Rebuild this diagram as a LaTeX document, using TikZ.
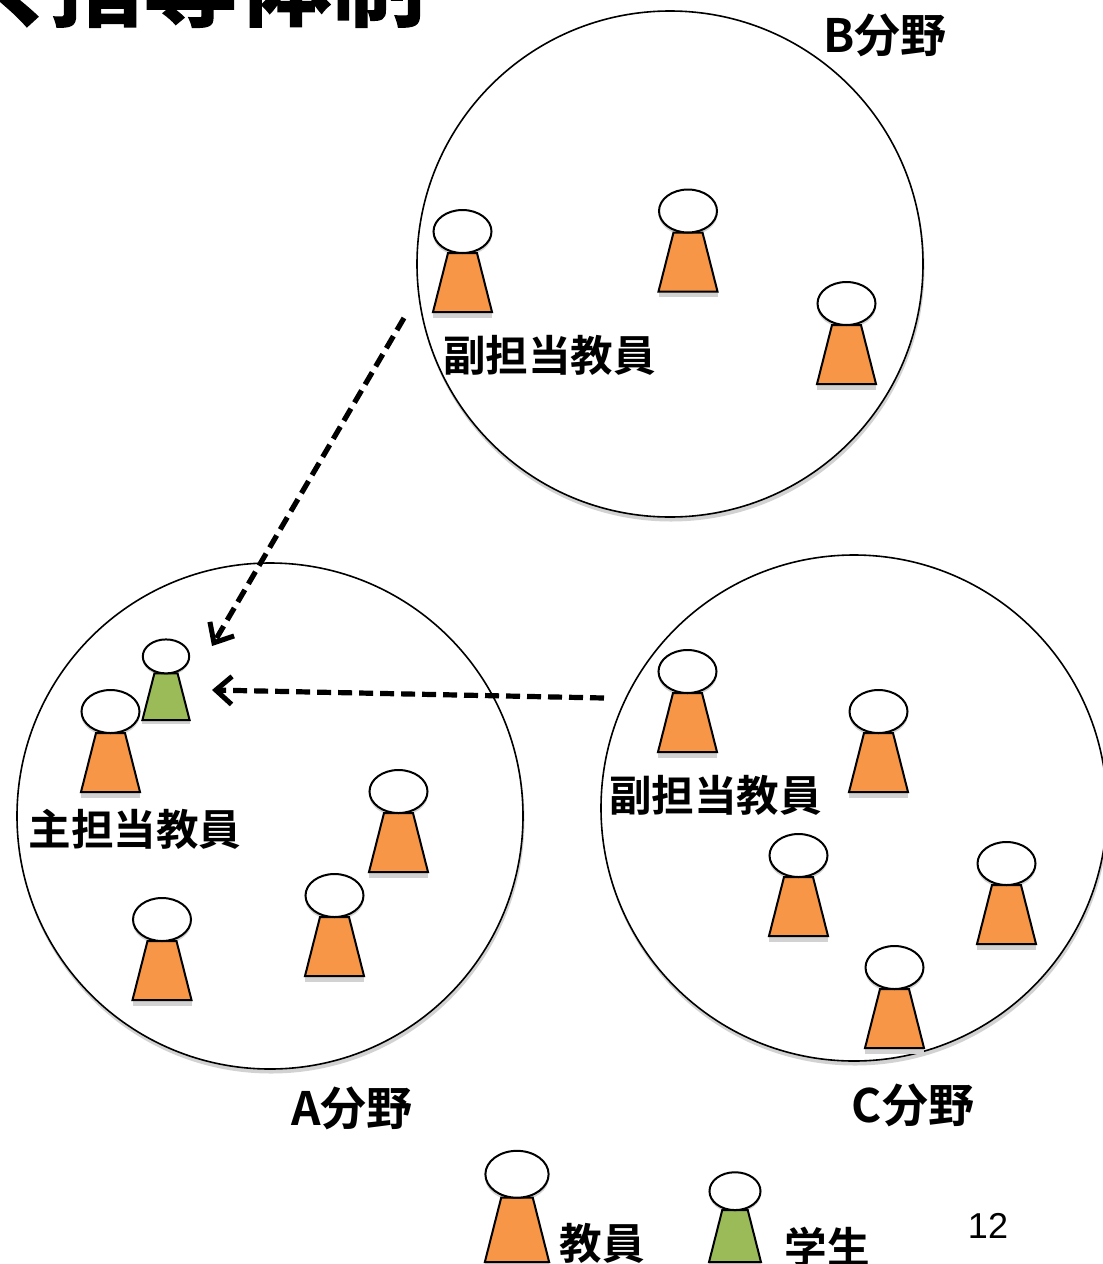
\documentclass[tikz,border=0pt]{standalone}
\usepackage{fontspec}
\setmainfont{Noto Sans CJK JP}[BoldFont={Noto Sans CJK JP Bold}]
\newfontfamily\numfont{Liberation Sans}
\newfontfamily\titlefont{Noto Sans CJK JP Bold}[FakeBold=1.5]
\usetikzlibrary{arrows.meta}
\definecolor{teacherfill}{HTML}{F79646}
\definecolor{studentfill}{HTML}{9BBB59}
\definecolor{softshadow}{HTML}{D2D2D2}
\tikzset{
  x=1pt,y=-1pt,
  field/.style={circle,draw=black,line width=1.6pt,fill=white,minimum size=506pt,inner sep=0pt,outer sep=0pt},
  label/.style={font=\bfseries\fontsize{42.6}{43}\selectfont,inner sep=0pt,anchor=center,text=black},
  fieldlabel/.style={font=\bfseries\fontsize{46}{46}\selectfont,inner sep=0pt,anchor=center,text=black},
  link/.style={line width=5.2pt,dash pattern=on 14pt off 7pt,-{Straight Barb[length=16pt,width=28pt,line width=5pt]}},
  outline/.style={draw=black,line width=2pt,line join=miter},
}
% #1 x of centre, #2 y of body bottom, #3 scale, #4 body colour, #5 scale in y
\newcommand{\personfig}[5]{%
  \begin{scope}[shift={(#1,#2)},xscale=#3,yscale=#5]
    \fill[softshadow] (0,-80.5+2.5) ellipse (29.5 and 22);
    \fill[softshadow] (-29.5,5.5) -- (29.5,5.5) -- (29.5,0) -- (-29.5,0) -- cycle;
    \draw[outline,fill=#4] (-14.5,-59) -- (14.5,-59) -- (29.5,0) -- (-29.5,0) -- cycle;
    \draw[outline,fill=white] (0,-80.5) ellipse (29 and 21.5);
  \end{scope}}
\begin{document}
\begin{tikzpicture}
\useasboundingbox (0,0) rectangle (1103,1264);
\clip (0,0) rectangle (1103,1264);
\node[anchor=base west,inner sep=0pt,font=\titlefont\fontsize{94}{94}\selectfont] (title) at (-33,19) {く\kern-12pt 指導体制};
% field shadows and fields
\foreach \cx/\cy in {670/264,270/816,854/808}
  \fill[softshadow] (\cx+1,\cy+4) circle (253.5);
\node[field] (fieldB) at (670,264) {};
\node[field] (fieldA) at (270,816) {};
\node[field] (fieldC) at (854,808) {};
% people
\foreach \px/\py in {462.5/312,688/291.5,846.5/384,
                     398.5/872,334.5/976,162/1000,
                     687.5/752,878.5/792,798.5/936,1006.5/944,894.5/1048}
  \personfig{\px}{\py}{1}{teacherfill}{1};
\personfig{166}{720}{0.8}{studentfill}{0.79}
\personfig{110.5}{792}{1}{teacherfill}{1}
\personfig{517}{1262}{1.09}{teacherfill}{1.09}
\personfig{735}{1262}{0.88}{studentfill}{0.88}
% labels
\node[fieldlabel] (lblB) at (885,35) {B分野};
\node[fieldlabel] (lblA) at (352,1108) {A分野};
\node[fieldlabel] (lblC) at (913,1105) {C分野};
\node[label] (subB) at (549.5,355) {副担当教員};
\node[label] (subC) at (715.5,795) {副担当教員};
\node[label] (mainA) at (135,829) {主担当教員};
\node[label] (lgT) at (602,1243) {教員};
\node[label] (lgS) at (827,1247) {学生};
\node[inner sep=0pt,font=\numfont\fontsize{36}{36}\selectfont] (pg) at (988,1226) {12};
% connectors
\coordinate (fromB) at (404,318);
\coordinate (toB) at (212,646);
\coordinate (fromC) at (604,698);
\coordinate (toC) at (212,690);
\draw[link] (fromB) -- (toB);
\draw[link] (fromC) -- (toC);
\end{tikzpicture}
\end{document}
